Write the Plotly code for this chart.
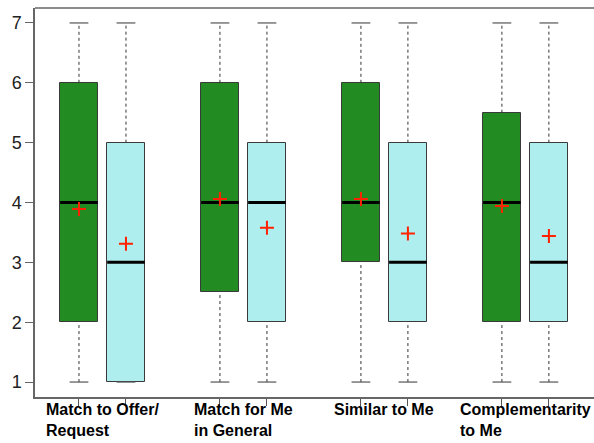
import plotly.graph_objects as go

# Four rating questions, each answered under two conditions
groups = ["Match to Offer/<br>Request", "Match for Me<br>in General", "Similar to Me", "Complementarity<br>to Me"]
positions = [1, 2, 4, 5, 7, 8, 10, 11]
fills = ["#228B22", "#AFEEEE"] * 4

lower_whisker = [1, 1, 1, 1, 1, 1, 1, 1]
q1 = [2, 1, 2.5, 2, 3, 2, 2, 2]
median = [4, 3, 4, 4, 4, 3, 4, 3]
q3 = [6, 5, 6, 5, 6, 5, 5.5, 5]
upper_whisker = [7, 7, 7, 7, 7, 7, 7, 7]
means = [3.89, 3.31, 4.06, 3.58, 4.06, 3.48, 3.94, 3.44]

box_w = 0.8
cap_w = 0.4

fig = go.Figure()

# Dashed whiskers from box edges to the extremes
for p, lo, a, b, hi in zip(positions, lower_whisker, q1, q3, upper_whisker):
    for y0, y1 in ((lo, a), (b, hi)):
        fig.add_trace(go.Scatter(x=[p, p], y=[y0, y1], mode="lines",
                                 line=dict(color="#333333", width=1, dash="3px,3px"),
                                 hoverinfo="skip", showlegend=False))
    for y in (lo, hi):
        fig.add_trace(go.Scatter(x=[p - cap_w / 2, p + cap_w / 2], y=[y, y], mode="lines",
                                 line=dict(color="#555555", width=1.2),
                                 hoverinfo="skip", showlegend=False))

# Boxes spanning the interquartile range
fig.add_trace(go.Bar(x=positions, y=[b - a for a, b in zip(q1, q3)], base=q1,
                     width=box_w, marker=dict(color=fills, line=dict(color="#3a3a3a", width=1)),
                     hoverinfo="skip", showlegend=False))

# Medians
for p, m in zip(positions, median):
    fig.add_trace(go.Scatter(x=[p - box_w / 2, p + box_w / 2], y=[m, m], mode="lines",
                             line=dict(color="black", width=3),
                             hoverinfo="skip", showlegend=False))

# Means
fig.add_trace(go.Scatter(x=positions, y=means, mode="markers",
                         marker=dict(symbol="cross-thin", size=10,
                                     line=dict(color="#FF2200", width=2)),
                         hoverinfo="skip", showlegend=False))

# Group labels below the axis
for i, g in enumerate(groups):
    fig.add_annotation(x=(positions[2 * i] + positions[2 * i + 1]) / 2, y=0, yref="paper",
                       yshift=-2, text=f"<b>{g}</b>", showarrow=False,
                       xanchor="center", yanchor="top", align="left",
                       font=dict(family="Liberation Sans, Arial", size=16, color="black"))

# Top border of the frame (no right border)
fig.add_shape(type="line", xref="paper", yref="paper", x0=0, x1=1, y0=1, y1=1,
              line=dict(color="#666666", width=1.5))

fig.update_layout(
    width=594, height=443,
    margin=dict(l=35, r=0, t=8, b=46),
    plot_bgcolor="white", paper_bgcolor="white",
    bargap=0,
    font=dict(family="Liberation Sans, Arial", color="#222222"),
    xaxis=dict(range=[0.064, 11.96], tickvals=positions, ticktext=[""] * len(positions),
               ticks="outside", ticklen=7, tickcolor="#555555", tickwidth=1,
               showline=True, linecolor="#666666", linewidth=1.5,
               showgrid=False, zeroline=False, fixedrange=True),
    yaxis=dict(range=[0.75, 7.25], tickvals=[1, 2, 3, 4, 5, 6, 7],
               ticks="outside", ticklen=8, tickcolor="#666666", tickwidth=1,
               tickfont=dict(family="Liberation Sans, Arial", size=18, color="#222222"),
               showline=True, linecolor="#666666", linewidth=1.5,
               showgrid=False, zeroline=False, fixedrange=True),
)

fig.write_html("out.html")
